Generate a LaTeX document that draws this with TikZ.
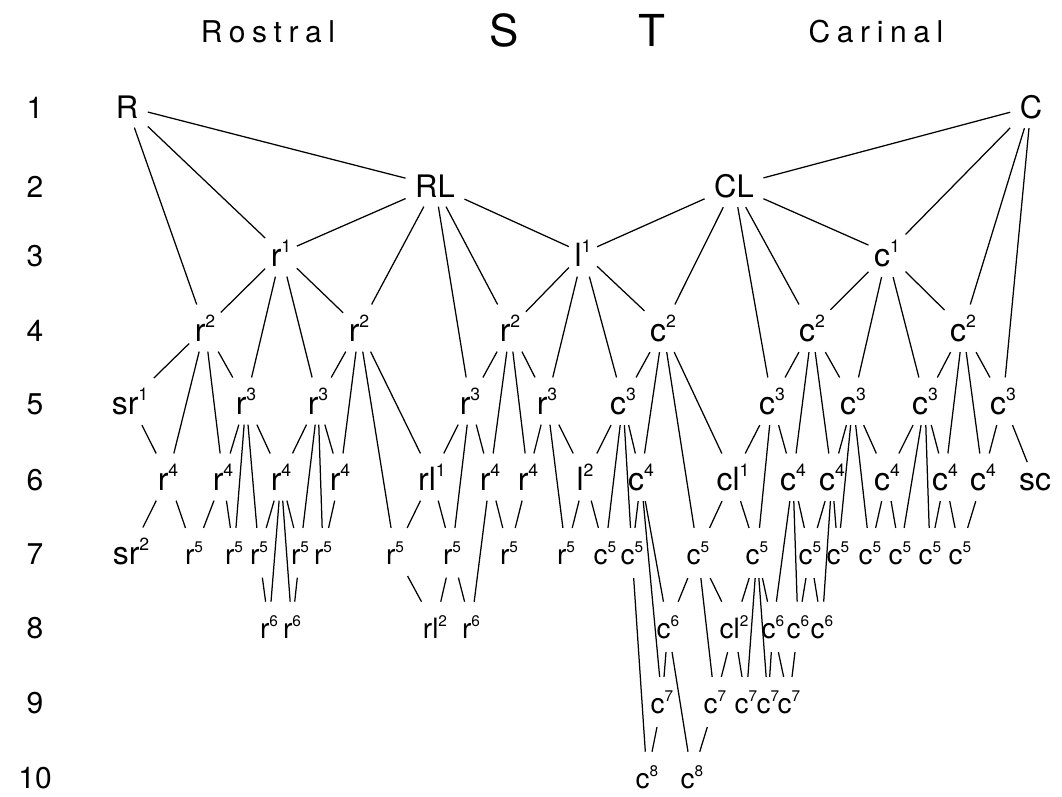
\documentclass[tikz,border=0pt]{standalone}
\usepackage{fontspec}
\setmainfont{TeX Gyre Heros}
\usepackage{graphicx}

\newcommand{\ix}[2]{#1\raisebox{0.42em}{\scalebox{0.55}{#2}}}

\begin{document}
\begin{tikzpicture}[x=1pt, y=-1pt, line width=1.25pt,
		big/.style={font=\fontsize{31}{31}\selectfont, inner xsep=9pt, inner ysep=9pt, anchor=base},
		mid/.style={font=\fontsize{32}{32}\selectfont, inner xsep=5pt, inner ysep=10pt, anchor=base},
		low/.style={font=\fontsize{28}{28}\selectfont, inner xsep=3pt, inner ysep=13pt, anchor=base},
		rowno/.style={font=\fontsize{30}{30}\selectfont, anchor=base},
		head/.style={font=\fontsize{30}{30}\selectfont\addfontfeature{LetterSpace=22}, anchor=base},
		bigletter/.style={font=\fontsize{44}{44}\selectfont, anchor=base}
		]
		
		\useasboundingbox (0,0) rectangle (1062,796);
		
		\node[head] (rostral) at (268,42) {Rostral};
		\node[bigletter] (sname) at (504,46) {S};
		\node[bigletter] (tname) at (652,46) {T};
		\node[head] (carinal) at (876,42) {Carinal};
		
		\node[rowno] (n1) at (35,118) {1};
		\node[rowno] (n2) at (35,197) {2};
		\node[rowno] (n3) at (35,266) {3};
		\node[rowno] (n4) at (35,341) {4};
		\node[rowno] (n5) at (35,414) {5};
		\node[rowno] (n6) at (35,490) {6};
		\node[rowno] (n7) at (35,564) {7};
		\node[rowno] (n8) at (35,638) {8};
		\node[rowno] (n9) at (35,713) {9};
		\node[rowno] (n10) at (35,788) {10};
		
		\node[big] (R) at (127,118) {R};
		\node[big] (C) at (1031,118) {C};
		\node[big] (RL) at (435,197) {RL};
		\node[big] (CL) at (734,197) {CL};
		
		\node[mid] (r1) at (281,266) {\ix{r}{1}};
		\node[mid] (l1) at (583,266) {\ix{l}{1}};
		\node[mid] (c1) at (887,266) {\ix{c}{1}};
		
		\node[mid] (r2a) at (205,341) {\ix{r}{2}};
		\node[mid] (r2b) at (359,341) {\ix{r}{2}};
		\node[mid] (r2c) at (510,341) {\ix{r}{2}};
		\node[mid] (c2a) at (663,341) {\ix{c}{2}};
		\node[mid] (c2b) at (812,341) {\ix{c}{2}};
		\node[mid] (c2c) at (963,341) {\ix{c}{2}};
		
		\node[mid] (sr1) at (130,414) {\ix{sr}{1}};
		\node[mid] (r3a) at (246,414) {\ix{r}{3}};
		\node[mid] (r3b) at (318,414) {\ix{r}{3}};
		\node[mid] (r3c) at (470,414) {\ix{r}{3}};
		\node[mid] (r3d) at (547,414) {\ix{r}{3}};
		\node[mid] (c3a) at (623,414) {\ix{c}{3}};
		\node[mid] (c3b) at (772,414) {\ix{c}{3}};
		\node[mid] (c3c) at (853,414) {\ix{c}{3}};
		\node[mid] (c3d) at (925,414) {\ix{c}{3}};
		\node[mid] (c3e) at (1003,414) {\ix{c}{3}};
		
		\node[mid] (r4a) at (168,490) {\ix{r}{4}};
		\node[mid] (r4b) at (223,490) {\ix{r}{4}};
		\node[mid] (r4c) at (281,490) {\ix{r}{4}};
		\node[mid] (r4d) at (340,490) {\ix{r}{4}};
		\node[mid] (rl1) at (432,490) {\ix{rl}{1}};
		\node[mid] (r4e) at (490,490) {\ix{r}{4}};
		\node[mid] (r4f) at (528,490) {\ix{r}{4}};
		\node[mid] (l2) at (585,490) {\ix{l}{2}};
		\node[mid] (c4a) at (641,490) {\ix{c}{4}};
		\node[mid] (cl1) at (733,490) {\ix{cl}{1}};
		\node[mid] (c4b) at (793,490) {\ix{c}{4}};
		\node[mid] (c4c) at (832,490) {\ix{c}{4}};
		\node[mid] (c4d) at (887,490) {\ix{c}{4}};
		\node[mid] (c4e) at (945,490) {\ix{c}{4}};
		\node[mid] (c4f) at (983,490) {\ix{c}{4}};
		\node[mid] (sc) at (1035,490) {sc};
		
		\node[mid] (sr2) at (131,564) {\ix{sr}{2}};
		\node[low] (r5a) at (194,564) {\ix{r}{5}};
		\node[low] (r5b) at (234,564) {\ix{r}{5}};
		\node[low] (r5c) at (259,564) {\ix{r}{5}};
		\node[low] (r5d) at (300,564) {\ix{r}{5}};
		\node[low] (r5e) at (323,564) {\ix{r}{5}};
		\node[low] (r5f) at (395,564) {\ix{r}{5}};
		\node[low] (r5g) at (452,564) {\ix{r}{5}};
		\node[low] (r5h) at (509,564) {\ix{r}{5}};
		\node[low] (r5i) at (566,564) {\ix{r}{5}};
		\node[low] (c5a) at (605,564) {\ix{c}{5}};
		\node[low] (c5b) at (632,564) {\ix{c}{5}};
		\node[low] (c5c) at (698,564) {\ix{c}{5}};
		\node[low] (c5d) at (757,564) {\ix{c}{5}};
		\node[low] (c5e) at (810,564) {\ix{c}{5}};
		\node[low] (c5f) at (838,564) {\ix{c}{5}};
		\node[low] (c5g) at (870,564) {\ix{c}{5}};
		\node[low] (c5h) at (900,564) {\ix{c}{5}};
		\node[low] (c5i) at (930,564) {\ix{c}{5}};
		\node[low] (c5j) at (960,564) {\ix{c}{5}};
		
		\node[low] (r6a) at (269,638) {\ix{r}{6}};
		\node[low] (r6b) at (292,638) {\ix{r}{6}};
		\node[low] (rl2) at (435,638) {\ix{rl}{2}};
		\node[low] (r6c) at (471,638) {\ix{r}{6}};
		\node[low] (c6a) at (668,638) {\ix{c}{6}};
		\node[low] (cl2) at (734,638) {\ix{cl}{2}};
		\node[low] (c6b) at (773,638) {\ix{c}{6}};
		\node[low] (c6c) at (798,638) {\ix{c}{6}};
		\node[low] (c6d) at (822,638) {\ix{c}{6}};
		
		\node[low] (c7a) at (662,713) {\ix{c}{7}};
		\node[low] (c7b) at (715,713) {\ix{c}{7}};
		\node[low] (c7c) at (746,713) {\ix{c}{7}};
		\node[low] (c7d) at (768,713) {\ix{c}{7}};
		\node[low] (c7e) at (789,713) {\ix{c}{7}};
		
		\node[low] (c8a) at (647,788) {\ix{c}{8}};
		\node[low] (c8b) at (692,788) {\ix{c}{8}};
		
		\draw (R) -- (RL) (R) -- (r1) (R) -- (r2a);
		\draw (C) -- (CL) (C) -- (c1) (C) -- (c2c) (C) -- (c3e);
		\draw (RL) -- (r1) (RL) -- (r2b) (RL) -- (r3c) (RL) -- (r2c) (RL) -- (l1);
		\draw (CL) -- (l1) (CL) -- (c2a) (CL) -- (c3b) (CL) -- (c2b) (CL) -- (c1);
		
		\draw (r1) -- (r2a) (r1) -- (r3a) (r1) -- (r3b) (r1) -- (r2b);
		\draw (l1) -- (r2c) (l1) -- (r3d) (l1) -- (c3a) (l1) -- (c2a);
		\draw (c1) -- (c2b) (c1) -- (c3c) (c1) -- (c3d) (c1) -- (c2c);
		
		\draw (r2a) -- (sr1) (r2a) -- (r4a) (r2a) -- (r4b) (r2a) -- (r3a);
		\draw (r2b) -- (r3b) (r2b) -- (r4d) (r2b) -- (r5f) (r2b) -- (rl1);
		\draw (r2c) -- (r3c) (r2c) -- (r4e) (r2c) -- (r4f) (r2c) -- (r3d);
		\draw (c2a) -- (c3a) (c2a) -- (c4a) (c2a) -- (c5c) (c2a) -- (cl1);
		\draw (c2b) -- (c3b) (c2b) -- (c4b) (c2b) -- (c4c) (c2b) -- (c3c);
		\draw (c2c) -- (c3d) (c2c) -- (c4e) (c2c) -- (c4f) (c2c) -- (c3e);
		
		\draw (sr1) -- (r4a);
		\draw (r3a) -- (r4b) (r3a) -- (r5b) (r3a) -- (r5c) (r3a) -- (r4c);
		\draw (r3b) -- (r4c) (r3b) -- (r5d) (r3b) -- (r5e) (r3b) -- (r4d);
		\draw (r3c) -- (rl1) (r3c) -- (r5g) (r3c) -- (r4e);
		\draw (r3d) -- (r4f) (r3d) -- (r5i) (r3d) -- (l2);
		\draw (c3a) -- (l2) (c3a) -- (c5a) (c3a) -- (c5b) (c3a) -- (c4a);
		\draw (c3b) -- (cl1) (c3b) -- (c5d) (c3b) -- (c4b);
		\draw (c3c) -- (c4c) (c3c) -- (c5f) (c3c) -- (c5g) (c3c) -- (c4d);
		\draw (c3d) -- (c4d) (c3d) -- (c5h) (c3d) -- (c5i) (c3d) -- (c4e);
		\draw (c3e) -- (c4f) (c3e) -- (sc);
		
		\draw (r4a) -- (sr2) (r4a) -- (r5a);
		\draw (r4b) -- (r5a) (r4b) -- (r5b);
		\draw (r4c) -- (r5c) (r4c) -- (r6a) (r4c) -- (r6b) (r4c) -- (r5d);
		\draw (r4d) -- (r5e);
		\draw (rl1) -- (r5f) (rl1) -- (r5g);
		\draw (r4e) -- (r6c) (r4e) -- (r5h);
		\draw (r4f) -- (r5h);
		\draw (l2) -- (r5i) (l2) -- (c5a);
		\draw (c4a) -- (c5b) (c4a) -- (c6a) (c4a) -- (c7a);
		\draw (cl1) -- (c5c) (cl1) -- (c5d);
		\draw (c4b) -- (c6b) (c4b) -- (c6c) (c4b) -- (c5e);
		\draw (c4c) -- (c5e) (c4c) -- (c6d) (c4c) -- (c5f);
		\draw (c4d) -- (c5g) (c4d) -- (c5h);
		\draw (c4e) -- (c5i) (c4e) -- (c5j);
		\draw (c4f) -- (c5j);
		
		\draw (r5c) -- (r6a);
		\draw (r5d) -- (r6b);
		\draw (r5f) -- (rl2);
		\draw (r5g) -- (rl2) (r5g) -- (r6c);
		\draw (c5b) -- (c8a);
		\draw (c5c) -- (c6a) (c5c) -- (c7b) (c5c) -- (cl2);
		\draw (c5d) -- (cl2) (c5d) -- (c7c) (c5d) -- (c7d) (c5d) -- (c6b);
		\draw (c5e) -- (c6c) (c5e) -- (c6d);
		
		\draw (c6a) -- (c7a) (c6a) -- (c8b);
		\draw (cl2) -- (c7b) (cl2) -- (c7c);
		\draw (c6b) -- (c7d) (c6b) -- (c7e);
		\draw (c6c) -- (c7e);
		\draw (c7a) -- (c8a);
		\draw (c7b) -- (c8b);
	\end{tikzpicture}
\end{document}
